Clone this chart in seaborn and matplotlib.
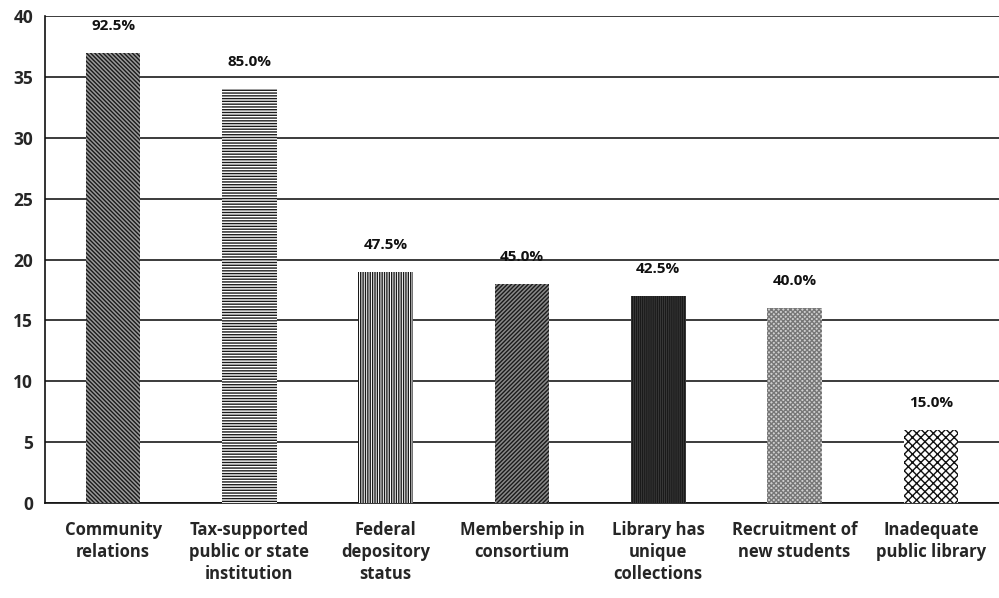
#!/usr/bin/env python3

import matplotlib

matplotlib.use("Agg")
import matplotlib.pyplot as plt
import seaborn as sns
import pandas as pd
from matplotlib.ticker import FixedLocator

categories = [
    "Community\nrelations",
    "Tax-supported\npublic or state\ninstitution",
    "Federal\ndepository\nstatus",
    "Membership in\nconsortium",
    "Library has\nunique\ncollections",
    "Recruitment of\nnew students",
    "Inadequate\npublic library",
]
counts = [37, 34, 19, 18, 17, 16, 6]
pct_labels = ["92.5%", "85.0%", "47.5%", "45.0%", "42.5%", "40.0%", "15.0%"]

# look of each bar (hatch, face colour, hatch colour)
hatches = ["\\\\\\\\\\\\\\\\", "------", "|||||||", "////////", "||||||||", "xxxxxxx", "xxxx"]
faces = ["#9a9a9a", "white", "white", "#8a8a8a", "#444444", "#d0d0d0", "white"]
hatch_cols = ["#1a1a1a", "#1a1a1a", "#1a1a1a", "#1a1a1a", "#1a1a1a", "#777777", "#111111"]

sns.set_style("white")
plt.rcParams["font.family"] = ["Open Sans", "DejaVu Sans"]
plt.rcParams["hatch.linewidth"] = 1.0

df = pd.DataFrame({"cat": categories, "n": counts})

fig, ax = plt.subplots(figsize=(9.99, 5.98), dpi=100)
fig.subplots_adjust(left=0.045, right=1.0, top=0.973, bottom=0.159)

sns.barplot(data=df, x="cat", y="n", color="white", width=0.4, ax=ax, zorder=3)

for patch, h, fc, hc in zip(ax.patches, hatches, faces, hatch_cols):
    patch.set_facecolor(fc)
    patch.set_hatch(h)
    patch.set_edgecolor(hc)
    patch.set_linewidth(0)

for i, (v, lab) in enumerate(zip(counts, pct_labels)):
    ax.text(i, v + 2.2, lab, ha="center", va="center", fontsize=11,
            fontweight="bold", color="#111111", zorder=4)

ax.set_ylim(0, 40)
ax.set_xlim(-0.5, len(categories) - 0.5)
ax.set_yticks(range(0, 41, 5))
ax.yaxis.grid(True, color="#1a1a1a", linewidth=1.2, zorder=0)
ax.set_axisbelow(True)
ax.set_xlabel("")
ax.set_ylabel("")

for s in ["top", "right"]:
    ax.spines[s].set_visible(False)
for s in ["left", "bottom"]:
    ax.spines[s].set_color("#111111")
    ax.spines[s].set_linewidth(1.2)

ax.tick_params(axis="x", which="major", length=0, pad=13, labelsize=12)
ax.xaxis.set_minor_locator(FixedLocator([i + 0.5 for i in range(len(categories))]))
ax.tick_params(axis="x", which="minor", length=6, width=1.2, color="#111111", direction="out")
ax.tick_params(axis="y", length=5, width=1.2, color="#111111", direction="out", labelsize=12.5)
for t in ax.get_xticklabels():
    t.set_fontweight("bold")
    t.set_linespacing(1.3)
for t in ax.get_yticklabels():
    t.set_fontweight("bold")

fig.savefig("out.png", dpi=100)
